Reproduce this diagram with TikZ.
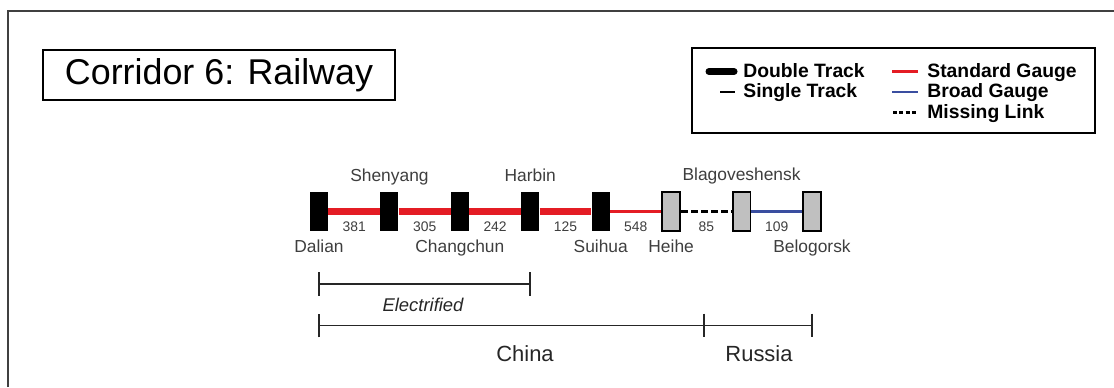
\documentclass[tikz,border=0pt]{standalone}
\usepackage{fontspec}
\setmainfont{Liberation Sans}
\usetikzlibrary{positioning, arrows.meta}

\definecolor{railred}{RGB}{228,28,36}
\definecolor{railblue}{RGB}{58,78,160}
\definecolor{boxgray}{RGB}{192,192,192}
\definecolor{labelgray}{RGB}{62,62,62}

\tikzset{
  station/.style={minimum width=10.2pt, minimum height=22pt, inner sep=0pt},
  dbltrack/.style={station, fill=black},
  border/.style={station, fill=boxgray, draw=black, line width=1pt},
  stname/.style={font=\fontsize{9.9}{11}\selectfont, text=labelgray, inner sep=1pt,
    text height=7.2pt, text depth=2pt},
  dist/.style={font=\fontsize{7.9}{9}\selectfont, text=labelgray, inner sep=0pt},
  legtext/.style={font=\bfseries\fontsize{11}{12}\selectfont, anchor=base west, inner sep=0pt},
  span/.style={line width=0.9pt, black!85},
}

\begin{document}
\begin{tikzpicture}[x=0.02cm, y=-0.02cm]
  \useasboundingbox (0,0) rectangle (1114,387);

  % Outer frame
  \draw[line width=1.1pt, black!75] (8,387) -- (8,11) -- (1114,11);

  % Title
  \node[draw, line width=0.7pt, minimum width=7.04cm, minimum height=1cm, inner sep=0pt,
    font=\fontsize{20.4}{24}\selectfont] (title) at (219,75) {Corridor 6: Railway};

  % Legend
  \node[draw, line width=0.9pt, minimum width=8.06cm, minimum height=1.7cm] (legend) at (893.5,90.5) {};
  \node[legtext] (ldouble) at (743,77) {Double Track};
  \node[legtext] (lsingle) at (743,97.5) {Single Track};
  \node[legtext] (lstd) at (927,77) {Standard Gauge};
  \node[legtext] (lbroad) at (927,97.5) {Broad Gauge};
  \node[legtext] (lmiss) at (927,118) {Missing Link};
  \draw[line width=4pt, line cap=round] ([shift={(-34,-5.5)}]ldouble.base west) -- ++(25,0);
  \draw[line width=1.2pt] ([shift={(-23,-5.5)}]lsingle.base west) -- ++(15,0);
  \draw[draw=railred, line width=1.3pt] ([shift={(-35,-5.5)}]lstd.base west) -- ++(26,0);
  \draw[draw=railblue, line width=1.3pt] ([shift={(-35,-5.5)}]lbroad.base west) -- ++(26,0);
  \draw[line width=1.2pt, dash pattern=on 2.2pt off 1.4pt] ([shift={(-34,-5.5)}]lmiss.base west) -- ++(25,0);

  % Stations
  \foreach \i/\nm/\sty in {0/dalian/dbltrack, 1/shenyang/dbltrack, 2/changchun/dbltrack,
      3/harbin/dbltrack, 4/suihua/dbltrack, 5/heihe/border, 6/blagov/border, 7/belogorsk/border}
    \node[\sty] (\nm) at (319+70.43*\i, 211.5) {};

  % Station names
  \node[stname, below=0.13cm of dalian] (ndalian) {Dalian};
  \node[stname, above=0.1cm of shenyang] (nshenyang) {Shenyang};
  \node[stname, below=0.13cm of changchun] (nchangchun) {Changchun};
  \node[stname, above=0.1cm of harbin] (nharbin) {Harbin};
  \node[stname, below=0.13cm of suihua] (nsuihua) {Suihua};
  \node[stname, below=0.13cm of heihe] (nheihe) {Heihe};
  \node[stname, above=0.1cm of blagov] (nblagov) {Blagoveshensk};
  \node[stname, below=0.13cm of belogorsk] (nbelogorsk) {Belogorsk};

  % Tracks
  \foreach \a/\b/\d in {dalian/shenyang/381, shenyang/changchun/305,
      changchun/harbin/242, harbin/suihua/125}
    \draw[railred, line width=4pt] (\a) -- (\b) node[dist, midway, yshift=-0.31cm] {\d};
  \draw[railred, line width=1.2pt] (suihua) -- (heihe) node[dist, midway, yshift=-0.31cm] {548};
  \draw[line width=1.4pt, dash pattern=on 3.7pt off 2pt] (heihe) -- (blagov)
    node[dist, midway, yshift=-0.31cm] {85};
  \draw[railblue, line width=1.2pt] (blagov) -- (belogorsk) node[dist, midway, yshift=-0.31cm] {109};

  % Spans
  \coordinate (e1) at (318,284);
  \coordinate (e2) at (531,284);
  \coordinate (c1) at (318,325.5);
  \coordinate (c2) at (705,325.5);
  \coordinate (c3) at (813,325.5);
  \draw[span, {Bar[width=13.6pt]}-{Bar[width=13.6pt]}] (e1) -- (e2);
  \draw[span, {Bar[width=13.6pt]}-{Bar[width=13.6pt]}] (c1) -- (c2);
  \draw[span, -{Bar[width=13.6pt]}] (c2) -- (c3);
  \node[font=\itshape\fontsize{10.5}{12}\selectfont, text=black!85] (elec) at (423,305) {Electrified};
  \node[font=\fontsize{12.5}{14}\selectfont, text=black!85] (china) at (525,354) {China};
  \node[font=\fontsize{12.5}{14}\selectfont, text=black!85] (russia) at (759,354) {Russia};
\end{tikzpicture}
\end{document}
